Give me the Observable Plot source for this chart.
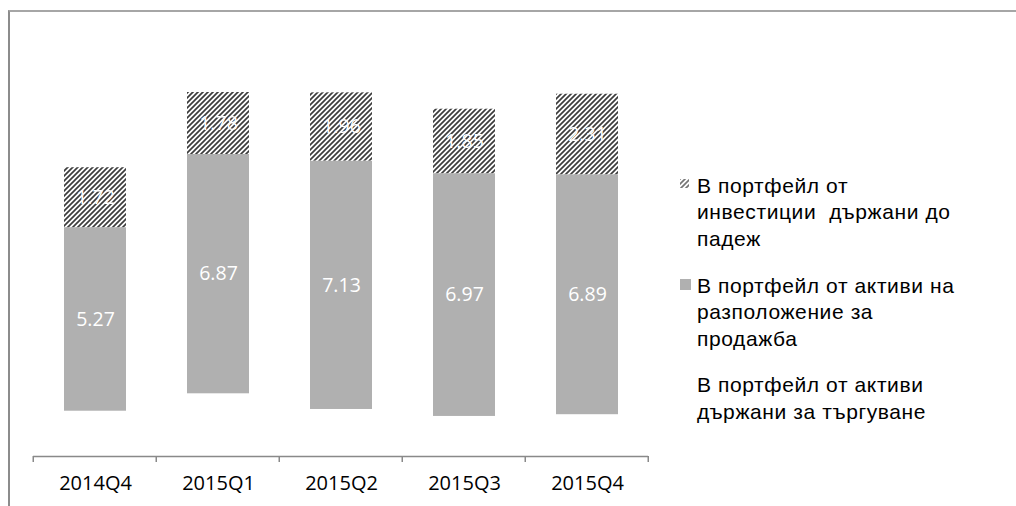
<!DOCTYPE html>
<html>
<head>
<meta charset="utf-8">
<script src="https://cdn.jsdelivr.net/npm/d3@7"></script>
<script src="https://cdn.jsdelivr.net/npm/@observablehq/plot@0.6"></script>
<style>
  html, body { margin: 0; padding: 0; background: #fff; }
  #wrap { position: relative; width: 1016px; height: 506px; overflow: hidden; }
  #frame { position: absolute; left: 8px; top: 10px; right: -4px; bottom: -4px;
           border-top: 2px solid #a6a6a6; border-left: 2px solid #8c8c8c; }
  #chart { position: absolute; left: 0; top: 0; }
  #legend { position: absolute; left: 680px; top: 173px; width: 334px;
            font-family: "Liberation Sans", Arial, sans-serif; font-size: 21px;
            letter-spacing: 0.6px; line-height: 26.4px; color: #000; }
  .item { position: relative; padding-left: 17px; margin-bottom: 20.5px; white-space: nowrap; }
  .item svg { position: absolute; left: 0; top: 6px; }
</style>
</head>
<body>
<div id="wrap">
  <div id="frame"></div>
  <div id="chart"></div>
  <div id="legend"></div>
</div>
<script>
// ---- data ----
const quarters = ["2014Q4", "2015Q1", "2015Q2", "2015Q3", "2015Q4"];
const heldForTrading = [1.30, 1.80, 1.35, 1.15, 1.20];
const availableForSale = [5.27, 6.87, 7.13, 6.97, 6.89];
const heldToMaturity = [1.72, 1.78, 1.96, 1.85, 2.31];
const seriesKeys = ["trading", "afs", "htm"];
const legendLines = [
  ["В портфейл от", "инвестиции\u00a0 държани до", "падеж"],
  ["В портфейл от активи на", "разположение за", "продажба"],
  ["В портфейл от активи", "държани за търгуване"]
];

const rows = [];
quarters.forEach((q, i) => {
  rows.push({quarter: q, series: "trading", value: heldForTrading[i]});
  rows.push({quarter: q, series: "afs", value: availableForSale[i]});
  rows.push({quarter: q, series: "htm", value: heldToMaturity[i]});
});

const boundaryTicks = (index, scales, values, dims) => {
  const x = scales.x;
  const step = x(quarters[1]) - x(quarters[0]);
  const bw = step * 0.5, off = step * 0.25;
  const bounds = quarters.map(q => x(q) - off).concat([x(quarters[quarters.length - 1]) + bw + off]);
  const y0 = dims.height - dims.marginBottom;
  const g = d3.create("svg:g");
  g.selectAll("line").data(bounds).join("line")
    .attr("x1", d => d).attr("x2", d => d)
    .attr("y1", y0).attr("y2", y0 + 6)
    .attr("stroke", "#898989").attr("stroke-width", 1.5);
  return g.node();
};

const chart = Plot.plot({
  width: 1016,
  height: 506,
  marginTop: 38,
  marginBottom: 50,
  marginLeft: 33,
  marginRight: 368,
  style: {fontFamily: "'Open Sans', sans-serif", background: "transparent"},
  x: {domain: quarters, paddingInner: 0.5, paddingOuter: 0.25, label: null},
  y: {domain: [0, 12], axis: null},
  color: {domain: seriesKeys, range: ["#ffffff", "#b0b0b0", "url(#hatch)"]},
  marks: [
    Plot.barY(rows, Plot.stackY({x: "quarter", y: "value", fill: "series"})),
    Plot.text(rows, Plot.stackY({
      x: "quarter", y: "value",
      text: d => d.series === "trading" ? null : d.value.toFixed(2),
      fill: "white", fontSize: 19.5
    })),
    Plot.ruleY([0], {stroke: "#898989", strokeWidth: 1.5}),
    Plot.axisX({tickSize: 0, tickPadding: 19, fontSize: 20, fill: "#000", label: null}),
    boundaryTicks
  ]
});

const svg = d3.select(chart);
const defs = svg.insert("defs", ":first-child");
const pat = defs.append("pattern").attr("id", "hatch")
  .attr("patternUnits", "userSpaceOnUse").attr("width", 5).attr("height", 5);
pat.append("rect").attr("width", 5).attr("height", 5).attr("fill", "#fff");
pat.append("path").attr("d", "M-1,1 l2,-2 M0,5 l5,-5 M4,6 l2,-2")
  .attr("stroke", "#3c3c3c").attr("stroke-width", 1.7);

document.getElementById("chart").appendChild(chart);

// ---- legend ----
const legend = d3.select("#legend");
const icons = ["hatch", "gray", null];
legendLines.forEach((lines, i) => {
  const item = legend.append("div").attr("class", "item");
  if (icons[i]) {
    const s = item.append("svg").attr("width", 11).attr("height", 11);
    s.append("rect").attr("x", 0).attr("y", 0).attr("width", icons[i] === "hatch" ? 9 : 11)
      .attr("height", icons[i] === "hatch" ? 9 : 11)
      .attr("fill", icons[i] === "hatch" ? "url(#hatch)" : "#b0b0b0")
      .attr("opacity", icons[i] === "hatch" ? 0.7 : 1);
  }
  lines.forEach(l => item.append("div").text(l));
});
</script>
</body>
</html>
